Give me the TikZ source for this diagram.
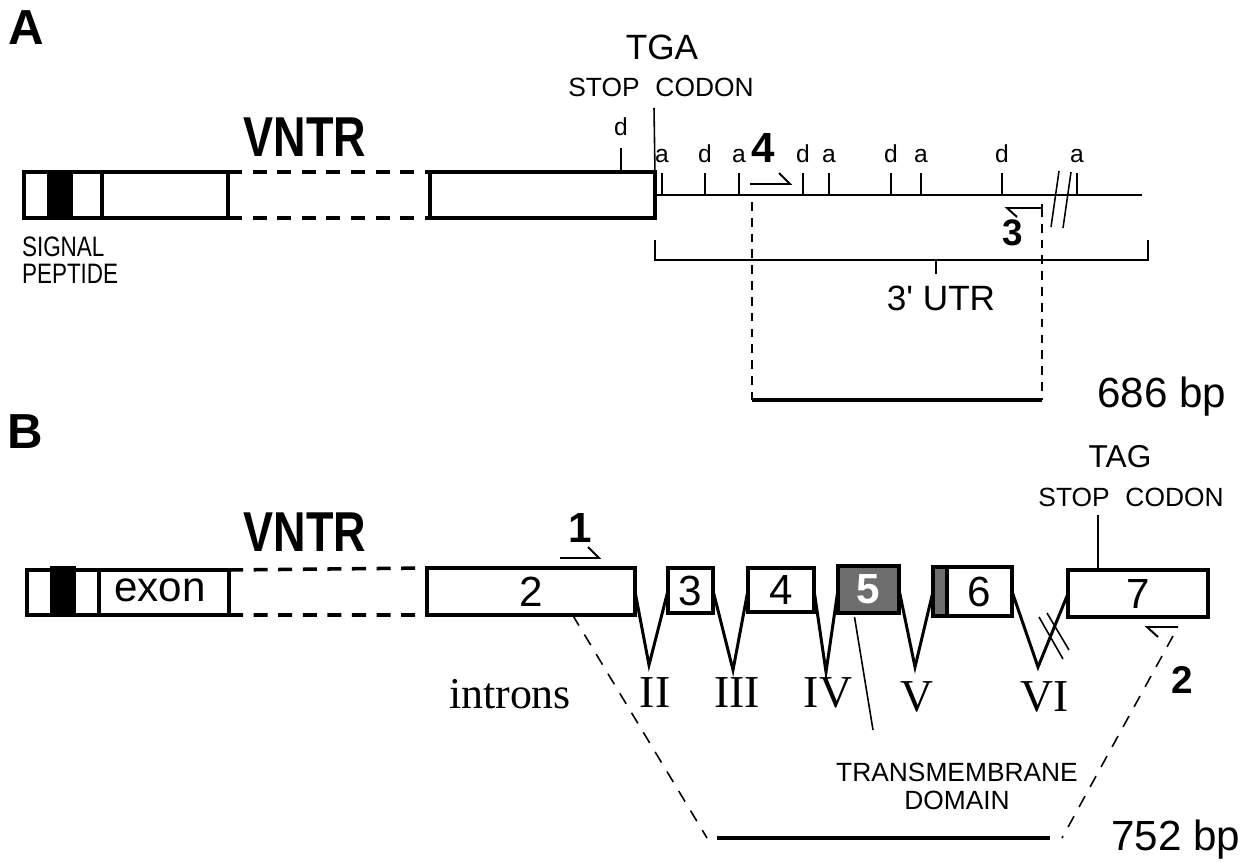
\documentclass[tikz,border=0pt]{standalone}
\usepackage{fontspec}
\setmainfont{Liberation Sans}
\newfontfamily\narrowfont{Liberation Sans}[FakeStretch=0.8]
\newfontfamily\romanfont{Liberation Serif}
\usetikzlibrary{positioning, calc}
\definecolor{tmgray}{HTML}{6E6E6E}

\begin{document}
\begin{tikzpicture}[
    x=0.02cm, y=-0.02cm,
    every node/.style={inner sep=0pt, outer sep=0pt},
    exon/.style={draw, line width=2.3pt, fill=white, minimum height=0.92cm, font=\fontsize{24}{24}\selectfont},
    small exon/.style={exon, line width=1.8pt},
    panel/.style={font=\fontsize{28}{28}\selectfont\bfseries},
    vntr label/.style={font=\fontsize{32}{32}\selectfont\narrowfont\bfseries},
    site/.style={font=\fontsize{14}{14}\selectfont, anchor=base},
    primer label/.style={font=\fontsize{24}{24}\selectfont\bfseries},
    bp/.style={font=\fontsize{24}{24}\selectfont},
    roman/.style={font=\fontsize{26}{26}\selectfont\romanfont},
    thin line/.style={line width=0.9pt},
    primer/.style={line width=1.1pt},
    bracket/.style={line width=1.2pt},
    intron/.style={line width=1.7pt},
    product/.style={line width=2.4pt},
    vntr/.style={line width=2pt, dash pattern=on 8pt off 6pt},
    dashedA/.style={line width=1.5pt, dash pattern=on 5pt off 4pt},
    dashedB/.style={line width=0.9pt, dash pattern=on 7pt off 6pt}
]
    \useasboundingbox (0,0) rectangle (1250,862);

    % A: 3' UTR
    \node[panel] (A) at (26,28) {A};
    \node[exon, minimum width=4.08cm] (e1a) at (126,195) {};
    \node[fill, minimum width=0.52cm, minimum height=0.98cm] (sp1a) at (60,195) {};
    \draw[line width=2.3pt] (102,172) -- (102,218);
    \node[anchor=west, align=left, font=\fontsize{16}{15.5}\selectfont\narrowfont] (sigpep) at (22,260) {SIGNAL\\PEPTIDE};
    \node[vntr label] (vntrA) at (305,137) {VNTR};
    \node[exon, minimum width=4.5cm] (e2a) at (542.5,195) {};
    \draw[vntr] (e1a.north east) -- (e2a.north west) (e1a.south east) -- (e2a.south west);

    \coordinate (tgaTop) at (654,108);
    \draw[thin line] (tgaTop) -- (e2a.north east);
    \node[font=\fontsize{20}{20}\selectfont] (tga) at (662,47) {TGA};
    \node[font=\fontsize{15}{15}\selectfont] (stopA) at (661,87) {STOP\hspace{0.6em}CODON};
    \coordinate (dTick) at (621,148);
    \draw[thin line] (dTick) -- (dTick |- e2a.north);
    \node[site] (d0) at (621,135) {d};

    \coordinate (utrEnd) at (1142,195);
    \draw[line width=1.7pt] (e2a.east) -- (utrEnd);
    \foreach \x/\s [count=\i] in {662/a,705/d,739/a,803/d,829/a,891/d,921/a,1002/d,1077/a} {
        \draw[thin line] (\x,173) -- (\x,195);
        \node[site] (s\i) at (\x,162) {\s};
    }
    \draw[thin line] (1059,171) -- (1051,227) (1071,172) -- (1063,228);

    \coordinate (p4) at (750,184);
    \draw[primer] (p4) -- ++(40,0) -- ++(-11,-11);
    \node[primer label] (n4) at (763,148) {4};
    \coordinate (p3) at (1042,208);
    \draw[primer] (p3) -- ++(-35,0) -- ++(10,9);
    \draw[primer] ($(p3)+(0,-4)$) -- ++(0,12);
    \node[primer label, font=\fontsize{21}{21}\selectfont\bfseries] (n3) at (1013,233) {3};

    \coordinate (utrL) at (655,240);
    \coordinate (utrR) at (1148,240);
    \draw[bracket] (utrL) -- ++(0,20) -| (utrR);
    \draw[bracket] (936,260) -- (936,274);
    \node[font=\fontsize{20}{20}\selectfont] (utr) at (941,298) {3\textquotesingle{} UTR};

    \coordinate (pA1) at (752,400);
    \coordinate (pA2) at (1042,400);
    \draw[dashedA] ($(p4)+(2,18)$) -- (pA1);
    \draw[dashedA] (p3) -- (pA2);
    \draw[product] (pA1) -- (pA2);
    \node[bp] (bpA) at (1162,397) {686 bp};

    % B: exons 2-7
    \node[panel] (B) at (25,432) {B};
    \node[exon, minimum width=4.04cm, minimum height=0.9cm] (e1b) at (128,592.5) {};
    \node[fill, minimum width=0.52cm, minimum height=0.98cm] (sp1b) at (63,590.5) {};
    \draw[line width=2.3pt] (99,570) -- (99,615);
    \node[font=\fontsize{24}{24}\selectfont] (exonlbl) at (160,590) {exon};
    \node[vntr label] (vntrB) at (305,532) {VNTR};
    \node[exon, minimum width=4.16cm, minimum height=0.94cm] (e2b) at (531,591.5) {2};
    \draw[vntr] (e1b.north east) -- (e2b.north west) (e1b.south east) -- (e2b.south west);

    \node[small exon, minimum width=0.9cm, minimum height=0.9cm] (e3b) at (690.5,590.5) {3};
    \node[small exon, minimum width=1.32cm, minimum height=0.88cm] (e4b) at (781,590) {4};
    \node[small exon, fill=tmgray, text=white, minimum width=1.22cm, minimum height=0.94cm, font=\fontsize{24}{24}\selectfont\bfseries] (e5b) at (868.5,589.5) {5};
    \node[small exon, fill=tmgray, minimum width=0.28cm, minimum height=0.98cm] (tm6) at (940,591.5) {};
    \node[small exon, minimum width=1.3cm, minimum height=0.98cm] (e6b) at (979.5,591.5) {6};
    \node[small exon, minimum width=2.8cm, minimum height=0.94cm] (e7b) at (1138,593.5) {7};

    \foreach \a/\b/\x/\y/\r/\lx/\ly in {e2b/e3b/649/665/II/655/693, e3b/e4b/733/670/III/737/693,
        e4b/e5b/826/672/IV/828/693, e5b/tm6/915/667/V/917/697, e6b/e7b/1038/667/VI/1045/697} {
        \coordinate (v\r) at (\x,\y);
        \draw[intron] (\a.east) -- (v\r) -- (\b.west);
        \node[roman] (r\r) at (\lx,\ly) {\r};
    }
    \node[roman, anchor=base, font=\fontsize{25}{25}\selectfont\romanfont] (introns) at (510,708) {introns};
    \draw[thin line] (1039,617) -- (1063,659) (1047,613) -- (1069,650);

    \coordinate (tagTop) at (1098,515);
    \draw[thin line] (tagTop) -- (tagTop |- e7b.north);
    \node[font=\fontsize{18}{18}\selectfont] (tag) at (1120,457) {TAG};
    \node[font=\fontsize{15}{15}\selectfont] (stopB) at (1131,497) {STOP\hspace{0.6em}CODON};

    \coordinate (p1) at (560,558);
    \draw[primer] (p1) -- ++(39,0) -- ++(-11,-11);
    \node[primer label] (n1) at (580,528) {1};
    \coordinate (p2) at (1178,627);
    \draw[primer] (p2) -- ++(-31,0) -- ++(11,10);
    \node[primer label, font=\fontsize{22}{22}\selectfont\bfseries] (n2) at (1182,680) {2};

    \coordinate (tmEnd) at (873,730);
    \draw[thin line] ($(e5b.south)+(-14,4)$) -- (tmEnd);
    \node[align=center, font=\fontsize{15}{16}\selectfont] (tm) at (957,786) {TRANSMEMBRANE\\DOMAIN};

    \coordinate (pB1) at (717,838);
    \coordinate (pB2) at (1050,838);
    \draw[dashedB] ($(e2b.south west)!0.7!(e2b.south east)$) -- ($(pB1)+(-10,0)$);
    \draw[dashedB] ($(p2)+(-5,9)$) -- ($(pB2)+(12,0)$);
    \draw[product] (pB1) -- (pB2);
    \node[bp] (bpB) at (1176,840) {752 bp};
\end{tikzpicture}
\end{document}
